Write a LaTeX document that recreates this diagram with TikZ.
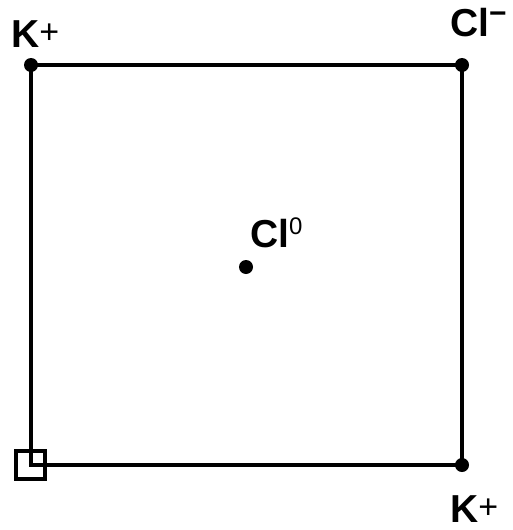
\documentclass[tikz,border=0pt]{standalone}
\usepackage{fontspec}
\setmainfont{Liberation Sans}
\begin{document}
\begin{tikzpicture}[x=1pt,y=-1pt,
  edge/.style={line width=3.6pt},
  atom/.style={circle,fill=black,inner sep=0pt,minimum size=14pt},
  lbl/.style={inner sep=0pt,font=\fontsize{39}{39}\selectfont\bfseries}]
\useasboundingbox (0,0) rectangle (513,530);
\node[atom] (tl) at (31,65) {};
\node[atom] (tr) at (462,65) {};
\node[atom] (br) at (462,465) {};
\coordinate (bl) at (31,465);
\node[atom] (c) at (246,267) {};
\draw[edge] (tl.center) -- (tr.center) -- (br.center) -- (bl) -- cycle;
\draw[line width=3.6pt] (16,451) rectangle (45,479);
\node[lbl,anchor=base west] (k1) at (11,47) {K\raisebox{4pt}{\fontsize{34}{34}\selectfont\mdseries +}};
\node[lbl,anchor=base west] (cl1) at (450,36) {Cl\raisebox{13pt}{\fontsize{30}{30}\selectfont\bfseries −}};
\node[lbl,anchor=base west] (cl0) at (250,247) {Cl\raisebox{13pt}{\fontsize{24}{24}\selectfont\mdseries 0}};
\node[lbl,anchor=base west] (k2) at (450,522) {K\raisebox{4pt}{\fontsize{34}{34}\selectfont\mdseries +}};
\end{tikzpicture}
\end{document}
